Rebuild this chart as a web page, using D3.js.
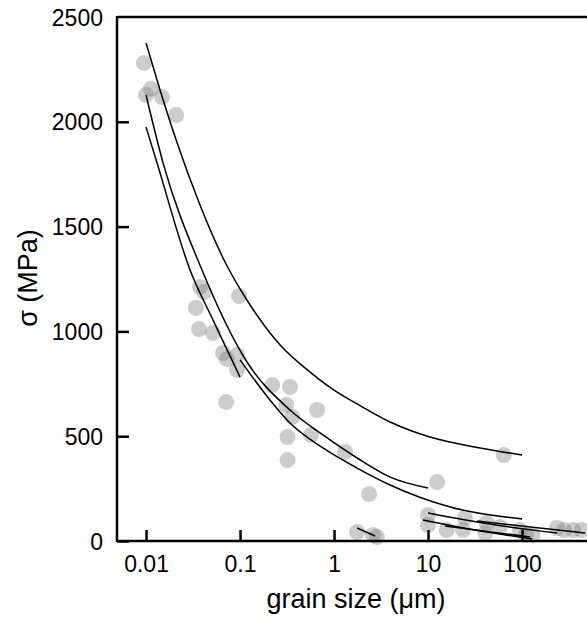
<!DOCTYPE html>
<html>
<head>
<meta charset="utf-8">
<script src="https://cdn.jsdelivr.net/npm/d3@7"></script>
<style>
  body { margin: 0; background: #fff; }
  text { font-family: Arial, "Liberation Sans", sans-serif; fill: #000; }
</style>
</head>
<body>
<div id="chart"></div>
<script>
// tick values
const xTicks = [0.01, 0.1, 1, 10, 100];
const yTicks = [0, 500, 1000, 1500, 2000, 2500];

// measured points: grain size (um) and stress (MPa)
const grainSize = [0.0095, 0.010, 0.0113, 0.0148, 0.0209, 0.0375, 0.0414, 0.034, 0.0366, 0.0515,
  0.0977, 0.066, 0.0727, 0.093, 0.093, 0.071, 0.22, 0.34, 0.31, 0.36,
  0.32, 0.32, 0.57, 0.66, 1.31, 2.36, 1.76, 2.6, 2.85, 12.5,
  64, 10, 10, 15.8, 24.6, 23.6, 42, 40.7, 58, 95,
  110, 130, 236, 280, 350, 430];
const stress = [2281, 2128, 2157, 2118, 2032, 1212, 1188, 1112, 1011, 992,
  1169, 897, 868, 887, 816, 663, 744, 735, 649, 592,
  496, 386, 506, 625, 425, 224, 43, 29, 19, 281,
  410, 124, 76, 52, 110, 52, 86, 38, 67, 52,
  29, 29, 62, 52, 52, 52];

// fitted curves as [grain size, stress]
const curveA = [[0.01, 2376], [0.0141, 2152], [0.0209, 1913], [0.0375, 1603], [0.0692, 1331],
  [0.128, 1126], [0.267, 935], [0.556, 806], [1.0, 720], [1.76, 654], [3.95, 568],
  [10.5, 496], [35.7, 444], [100, 410]];
const curveB = [[0.01, 2128], [0.0152, 1803], [0.0394, 1293], [0.1186, 854], [0.34, 625],
  [0.763, 506], [1.76, 396], [3.95, 305], [10, 253]];
const curveC = [[0.01, 1975], [0.0131, 1803], [0.0294, 1293], [0.0516, 1054], [0.1, 782]];
const curveE = [[0.1, 864], [0.208, 673], [0.34, 563], [0.763, 444], [1.76, 348],
  [3.95, 267], [17.2, 162], [100, 105]];
const curveF = [[10, 134], [45.7, 81], [236, 38]];
const curveG = [[33.2, 95], [468, 38]];
const curveH = [[8.85, 100], [31.6, 52], [128, 10]];
const curveI = [[15.2, 72], [122, 19]];
const curveJ = [[1.76, 62], [2.73, 24]];
const curves = [curveA, curveB, curveC, curveE, curveF, curveG, curveH, curveI, curveJ];

const W = 587, H = 618;
const margin = {top: 17, left: 117, bottom: 77};

const svg = d3.select('#chart').append('svg')
  .attr('width', W).attr('height', H);

const x = d3.scaleLog().domain([0.00491, 491]).range([margin.left, W]);
const y = d3.scaleLinear().domain([0, 2500]).range([H - margin.bottom, margin.top]);

// points
svg.append('g')
  .selectAll('circle')
  .data(grainSize)
  .join('circle')
  .attr('cx', d => x(d))
  .attr('cy', (d, i) => y(stress[i]))
  .attr('r', 8)
  .attr('fill', '#808080')
  .attr('fill-opacity', 0.4);

// curves
const line = d3.line()
  .x(d => x(d[0]))
  .y(d => y(d[1]))
  .curve(d3.curveMonotoneX);

svg.append('g')
  .selectAll('path')
  .data(curves)
  .join('path')
  .attr('d', line)
  .attr('fill', 'none')
  .attr('stroke', '#000')
  .attr('stroke-width', 1.5);

// axes
const xAxis = svg.append('g')
  .attr('transform', `translate(0,${y(0)})`)
  .call(d3.axisBottom(x).tickValues(xTicks).tickSize(-11).tickPadding(15)
    .tickFormat(d3.format('~g')));
xAxis.select('.domain').remove();
xAxis.append('line')
  .attr('x1', margin.left).attr('x2', W)
  .attr('stroke', '#000').attr('stroke-width', 2.5);

const yAxis = svg.append('g')
  .attr('transform', `translate(${margin.left},0)`)
  .call(d3.axisLeft(y).tickValues(yTicks).tickSize(-12).tickPadding(14)
    .tickFormat(d3.format('d')));
yAxis.select('.domain').remove();
yAxis.append('line')
  .attr('y1', y(2500) - 1).attr('y2', y(0) + 1)
  .attr('stroke', '#000').attr('stroke-width', 2.5);

svg.append('line')
  .attr('x1', margin.left).attr('x2', W)
  .attr('y1', y(2500)).attr('y2', y(2500))
  .attr('stroke', '#000').attr('stroke-width', 2.5);

svg.selectAll('.tick line').attr('stroke', '#000').attr('stroke-width', 2.5);
svg.selectAll('.tick text')
  .style('font-size', '23px')
  .style('font-family', 'Arial, "Liberation Sans", sans-serif');
yAxis.selectAll('.tick text').attr('dy', '0.35em');
yAxis.selectAll('.tick').filter(d => d === 2500).select('line').remove();

// axis titles
svg.append('text')
  .attr('x', 356).attr('y', 608)
  .attr('text-anchor', 'middle')
  .style('font-size', '27px')
  .text('grain size (μm)');

svg.append('text')
  .attr('transform', 'translate(37,278) rotate(-90)')
  .attr('text-anchor', 'middle')
  .style('font-size', '27px')
  .text('σ (MPa)');
</script>
</body>
</html>
